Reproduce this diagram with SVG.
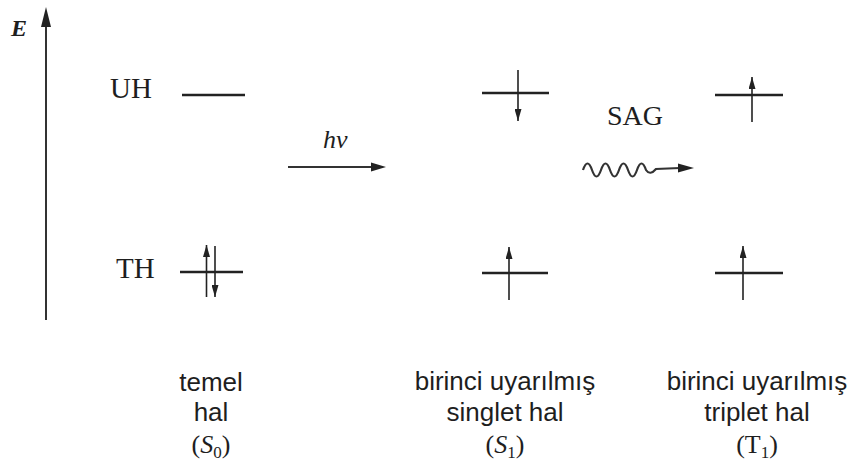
<svg xmlns="http://www.w3.org/2000/svg" width="854" height="473" viewBox="0 0 854 473">
  <style>
    .lvl { stroke: #222; stroke-width: 2.4; fill: none; }
    .spin { stroke: #222; stroke-width: 1.6; fill: none; }
    .ax { stroke: #333; stroke-width: 2; fill: none; }
    .wave { stroke: #333; stroke-width: 2.2; fill: none; }
    .head { fill: #222; stroke: none; }
    .serif { font-family: "Liberation Serif", "Times New Roman", serif; fill: #1e1e1e; }
    .sans { font-family: "Liberation Sans", Arial, sans-serif; fill: #1e1e1e; font-size: 26px; text-anchor: middle; }
    .lab { font-size: 29px; }
  </style>
  <defs>
    <marker id="spinhead" markerUnits="userSpaceOnUse" markerWidth="13" markerHeight="7" refX="12" refY="3.5" orient="auto">
      <path d="M0,0 L12,3.5 L0,7 Z" fill="#222"/>
    </marker>
  </defs>
  <rect width="854" height="473" fill="#ffffff"/>

  <g id="axis">
    <line class="ax" x1="46" y1="20" x2="46" y2="320"/>
    <polygon class="head" points="46,7 51,27 41,27"/>
    <text class="serif" x="11" y="36" font-size="24" font-style="italic" font-weight="bold">E</text>
  </g>

  <g id="level-labels">
    <text class="serif lab" x="110" y="98">UH</text>
    <text class="serif lab" x="116" y="278">TH</text>
  </g>

  <g id="state-S0">
    <line class="lvl" x1="182" y1="95" x2="245" y2="95"/>
    <line class="lvl" x1="180" y1="272" x2="243" y2="272"/>
    <line class="spin" x1="206.5" y1="297" x2="206.5" y2="245" marker-end="url(#spinhead)"/>
    <line class="spin" x1="215" y1="246" x2="215" y2="297" marker-end="url(#spinhead)"/>
    <text class="sans" x="211" y="391">temel</text>
    <text class="sans" x="211" y="421">hal</text>
    <text class="serif" x="211" y="453" font-size="26" text-anchor="middle">(<tspan font-style="italic">S</tspan><tspan font-size="17" dy="5">0</tspan><tspan dy="-5">)</tspan></text>
  </g>

  <g id="state-S1">
    <line class="lvl" x1="482" y1="93" x2="549" y2="93"/>
    <line class="spin" x1="518" y1="70" x2="518" y2="121" marker-end="url(#spinhead)"/>
    <line class="lvl" x1="482" y1="273" x2="548" y2="273"/>
    <line class="spin" x1="509" y1="300" x2="509" y2="247" marker-end="url(#spinhead)"/>
    <text class="sans" x="505" y="390">birinci uyarılmış</text>
    <text class="sans" x="505" y="421">singlet hal</text>
    <text class="serif" x="505" y="453" font-size="26" text-anchor="middle">(<tspan font-style="italic">S</tspan><tspan font-size="17" dy="5">1</tspan><tspan dy="-5">)</tspan></text>
  </g>

  <g id="state-T1">
    <line class="lvl" x1="715" y1="95" x2="783" y2="95"/>
    <line class="spin" x1="752" y1="122" x2="752" y2="77" marker-end="url(#spinhead)"/>
    <line class="lvl" x1="715" y1="273" x2="783" y2="273"/>
    <line class="spin" x1="743" y1="300" x2="743" y2="246" marker-end="url(#spinhead)"/>
    <text class="sans" x="757" y="390">birinci uyarılmış</text>
    <text class="sans" x="757" y="421">triplet hal</text>
    <text class="serif" x="757" y="453" font-size="26" text-anchor="middle">(T<tspan font-size="17" dy="5">1</tspan><tspan dy="-5">)</tspan></text>
  </g>

  <g id="connectors">
    <g id="absorption">
      <line class="ax" x1="288" y1="167" x2="373" y2="167"/>
      <polygon class="head" points="386,167 371,162.5 371,171.5"/>
      <text class="serif" x="323" y="148" font-size="26" font-style="italic">hv</text>
    </g>
    <g id="isc">
      <path class="wave" d="M583,170 q4.5,-13 9,0 t9,0 t9,0 t9,0 t9,0 t9,0 t9,0 q4,6 10,-1 L680,168"/>
      <polygon class="head" points="694,168 678,163.5 678,172.5"/>
      <text class="serif" x="607" y="125" font-size="28">SAG</text>
    </g>
  </g>
</svg>
